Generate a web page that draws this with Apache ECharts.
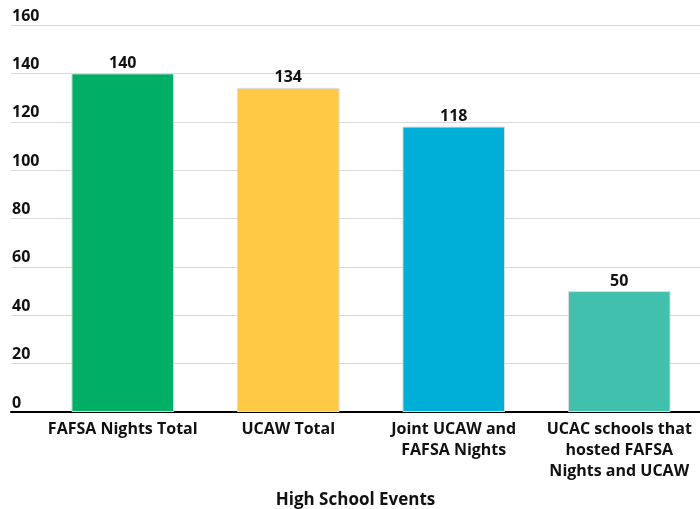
<!DOCTYPE html>
<html>
<head>
<meta charset="utf-8">
<script src="https://cdn.jsdelivr.net/npm/echarts@6/dist/echarts.min.js"></script>
<style>
  html, body { margin: 0; padding: 0; background: #fff; }
  #main { width: 700px; height: 509px; }
</style>
</head>
<body>
<div id="main"></div>
<script>
var categories = ['FAFSA Nights Total', 'UCAW Total', 'Joint UCAW and\nFAFSA Nights', 'UCAC schools that\nhosted FAFSA\nNights and UCAW']
var values = [140, 134, 118, 50]
var barColors = ['#00ae65', '#ffc845', '#00afd7', '#41c1ad']
var yTicks = { min: 0, max: 160, interval: 20 }
var axisTitle = 'High School Events'

var font = '"Open Sans", "Noto Sans", sans-serif'
var chart = echarts.init(document.getElementById('main'))
var option = {
    backgroundColor: '#fff',
    animation: false,
    grid: [
        { left: 11, right: 0, top: 25, bottom: 97, outerBoundsMode: 'none' }, // gridlines + y labels
        { left: 40, right: -2, top: 25, bottom: 97, outerBoundsMode: 'none' }, // bars
    ],
    xAxis: [
        {
            gridIndex: 0,
            type: 'value',
            min: 0,
            max: 1,
            axisLine: { show: true, onZero: false, lineStyle: { color: '#000', width: 2 } },
            axisTick: { show: false },
            axisLabel: { show: false },
            splitLine: { show: false },
            name: axisTitle,
            nameLocation: 'middle',
            nameGap: 80,
            nameTextStyle: { fontFamily: font, fontWeight: 'bold', fontSize: 17, color: '#111' },
        },
        {
            gridIndex: 1,
            type: 'category',
            data: categories,
            axisLine: { show: false },
            axisTick: { show: false },
            axisLabel: {
                fontFamily: font,
                fontWeight: 'bold',
                fontSize: 16,
                color: '#111',
                lineHeight: 21,
                margin: 7,
                interval: 0,
            },
        },
    ],
    yAxis: [
        {
            gridIndex: 0,
            type: 'value',
            min: yTicks.min,
            max: yTicks.max,
            interval: yTicks.interval,
            axisLine: { show: false },
            axisTick: { show: false },
            axisLabel: {
                inside: true,
                margin: 1,
                verticalAlign: 'bottom',
                padding: [0, 0, 1, 0],
                fontFamily: font,
                fontWeight: 'bold',
                fontSize: 16,
                color: '#111',
            },
            splitLine: { lineStyle: { color: '#d9d9d9', width: 1 } },
        },
        {
            gridIndex: 1,
            type: 'value',
            min: yTicks.min,
            max: yTicks.max,
            interval: yTicks.interval,
            show: false,
            splitLine: { show: false },
        },
    ],
    series: [
        {
            type: 'bar',
            xAxisIndex: 1,
            yAxisIndex: 1,
            barWidth: '62%',
            data: values.map(function (v, i) {
                return { value: v, itemStyle: { color: barColors[i] } }
            }),
            itemStyle: { borderColor: '#dcdcdc', borderWidth: 1 },
            label: {
                show: true,
                position: 'top',
                distance: 2,
                fontFamily: font,
                fontWeight: 'bold',
                fontSize: 16,
                color: '#111',
            },
        },
    ],
}
chart.setOption(option)
</script>
</body>
</html>
